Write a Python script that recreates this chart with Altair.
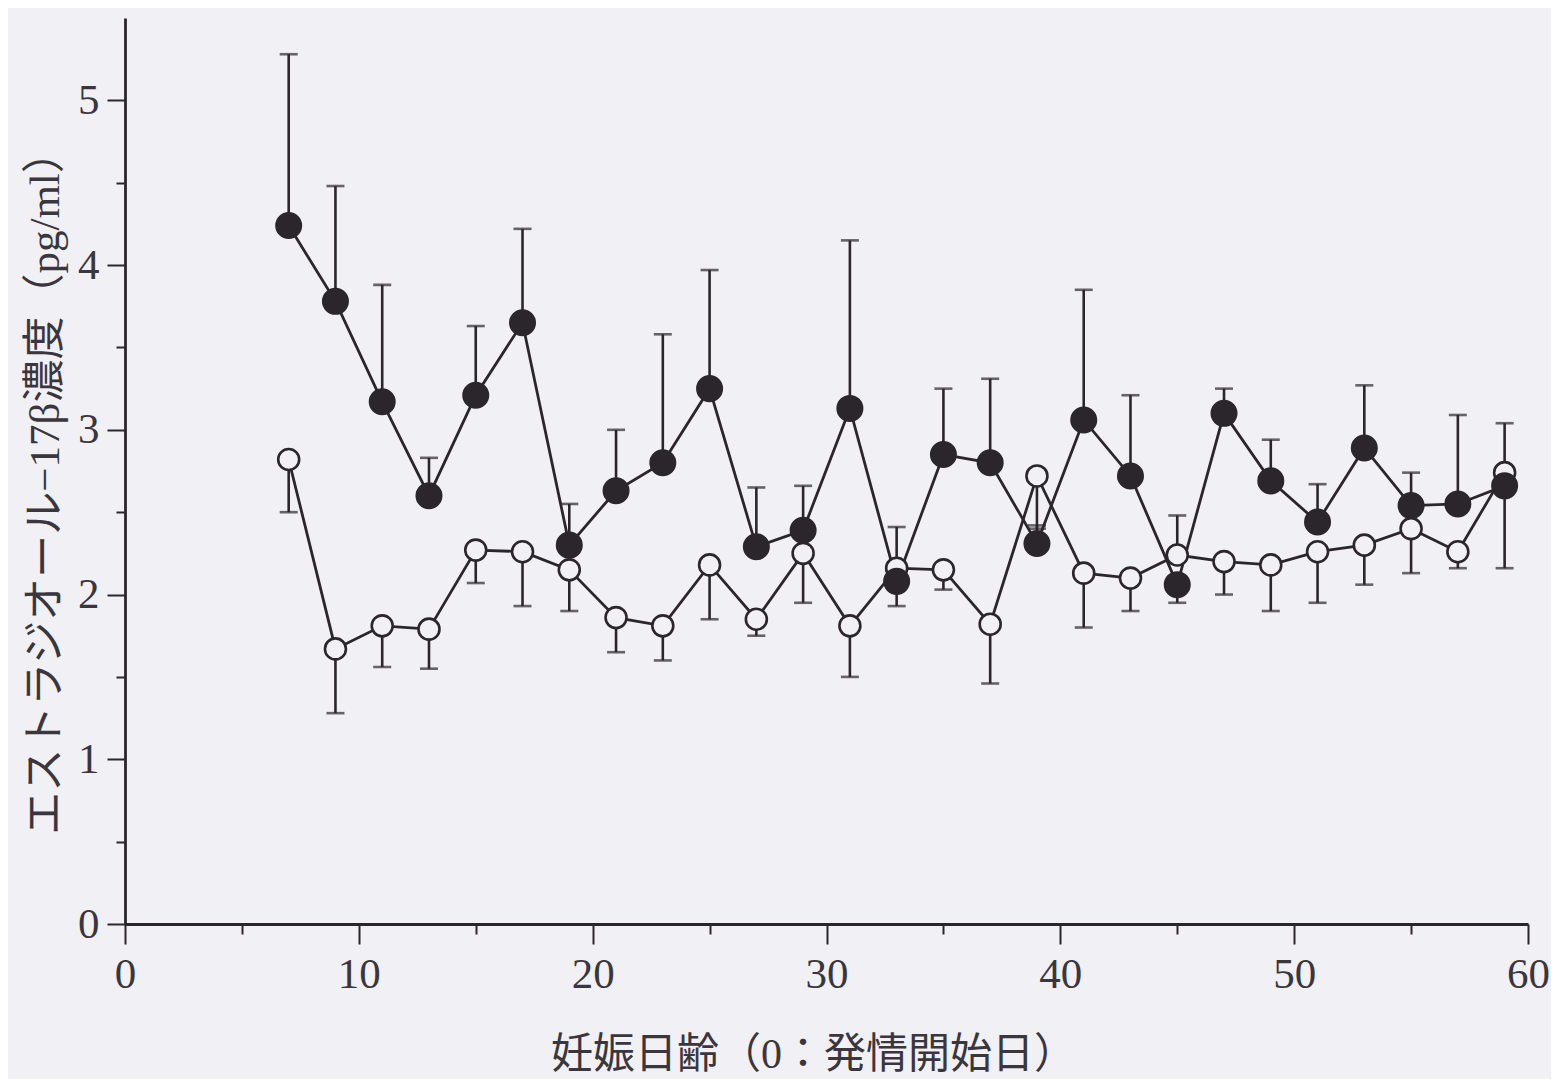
import altair as alt
import pandas as pd

# Gestation day (0 = onset of estrus)
days = [7, 9, 11, 13, 15, 17, 19, 21, 23, 25, 27, 29, 31, 33, 35, 37, 39,
        41, 43, 45, 47, 49, 51, 53, 55, 57, 59]

# Filled-circle series (mean, and end of its error bar)
filled_mean = [4.24, 3.78, 3.17, 2.60, 3.21, 3.65, 2.30, 2.63, 2.80, 3.25, 2.29,
               2.39, 3.13, 2.08, 2.85, 2.80, 2.31, 3.06, 2.72, 2.06, 3.10, 2.69,
               2.44, 2.89, 2.54, 2.55, 2.66]
filled_bar = [5.28, 4.48, 3.88, 2.83, 3.63, 4.22, 2.55, 3.00, 3.58, 3.97, 2.65,
              2.66, 4.15, 2.41, 3.25, 3.31, 2.42, 3.85, 3.21, 1.95, 3.25, 2.94,
              2.67, 3.27, 2.74, 3.09, 3.04]

# Open-circle series (mean, and end of its error bar)
open_mean = [2.82, 1.67, 1.81, 1.79, 2.27, 2.26, 2.15, 1.86, 1.81, 2.18, 1.85,
             2.25, 1.81, 2.16, 2.15, 1.82, 2.72, 2.13, 2.10, 2.24, 2.20, 2.18,
             2.26, 2.30, 2.40, 2.26, 2.74]
open_bar = [2.50, 1.28, 1.56, 1.55, 2.07, 1.93, 1.90, 1.65, 1.60, 1.85, 1.75,
            1.95, 1.50, 1.93, 2.03, 1.46, 2.40, 1.80, 1.90, 2.48, 2.00, 1.90,
            1.95, 2.06, 2.13, 2.16, 2.16]

x_ticks = [0, 5, 10, 15, 20, 25, 30, 35, 40, 45, 50, 55, 60]
y_ticks = [0, 0.5, 1, 1.5, 2, 2.5, 3, 3.5, 4, 4.5, 5]

x_title = "妊娠日齢（0：発情開始日）"
y_title = "エストラジオール−17β濃度（pg/ml）"

df = pd.DataFrame({
    "day": days,
    "filled": filled_mean,
    "filled_bar": filled_bar,
    "open": open_mean,
    "open_bar": open_bar,
})

BG = "#f1f0f5"
INK = "#2a262c"
TEXT = "#3a363e"
LABEL_FONT = "Liberation Serif"
TITLE_FONT = "Liberation Serif, Noto Sans CJK JP"

x_axis = alt.Axis(
    values=x_ticks,
    labelExpr="datum.value % 10 === 0 ? format(datum.value, 'd') : ''",
    tickSize={"condition": {"test": "datum.value % 10 === 0", "value": 20}, "value": 10},
    tickWidth=2, tickColor=INK, domainColor=INK, domainWidth=2.8,
    grid=False, labelFont=LABEL_FONT, labelFontSize=43, labelColor=TEXT,
    labelPadding=9, labelFlush=False,
    title=x_title, titleFont=TITLE_FONT, titleFontSize=42, titleFontWeight="normal",
    titleColor=TEXT, titleX=688, titleY=130, titleAlign="center",
    titleBaseline="middle", titleAnchor="start",
)
y_axis = alt.Axis(
    values=y_ticks,
    labelExpr="datum.value % 1 === 0 ? format(datum.value, 'd') : ''",
    tickSize={"condition": {"test": "datum.value % 1 === 0", "value": 18}, "value": 9},
    tickWidth=2, tickColor=INK, domainColor=INK, domainWidth=2.8,
    grid=False, labelFont=LABEL_FONT, labelFontSize=43, labelColor=TEXT,
    labelPadding=8, labelFlush=False,
    title=y_title, titleFont=TITLE_FONT, titleFontSize=43, titleFontWeight="normal",
    titleColor=TEXT, titleX=-80, titleY=464, titleAngle=270, titleAlign="center",
    titleBaseline="middle", titleAnchor="start",
)

x_scale = alt.Scale(domain=[0, 60], nice=False, zero=False)
y_scale = alt.Scale(domain=[0, 5.5], nice=False, zero=False)


def X():
    return alt.X("day:Q", scale=x_scale, axis=x_axis)


def Y(field):
    return alt.Y(f"{field}:Q", scale=y_scale, axis=y_axis)


base = alt.Chart(df)

open_line = base.mark_line(color=INK, strokeWidth=2.8).encode(x=X(), y=Y("open"))
filled_line = base.mark_line(color=INK, strokeWidth=2.8).encode(x=X(), y=Y("filled"))

open_err = base.mark_rule(color=INK, strokeWidth=2.6).encode(
    x=X(), y=Y("open"), y2="open_bar:Q")
open_cap = base.mark_tick(color=INK, orient="horizontal", size=18, thickness=2.6).encode(
    x=X(), y=Y("open_bar"))
filled_err = base.mark_rule(color=INK, strokeWidth=2.6).encode(
    x=X(), y=Y("filled"), y2="filled_bar:Q")
filled_cap = base.mark_tick(color=INK, orient="horizontal", size=18, thickness=2.6).encode(
    x=X(), y=Y("filled_bar"))

open_pts = base.mark_point(shape="circle", filled=True, fill=BG, stroke=INK,
                           strokeWidth=2.6, size=440, opacity=1).encode(
    x=X(), y=Y("open"))
filled_pts = base.mark_circle(color=INK, size=730, opacity=1).encode(
    x=X(), y=Y("filled"))

chart = alt.layer(
    open_line, filled_line, open_err, open_cap, filled_err, filled_cap,
    open_pts, filled_pts,
).properties(
    width=1403, height=906,
    padding={"left": 117, "top": 10, "right": 23, "bottom": 155},
    autosize=alt.AutoSizeParams(type="none"),
    background=BG,
).configure_view(stroke=None)

chart.save("out.html", embed_options={"renderer": "svg", "actions": False})
